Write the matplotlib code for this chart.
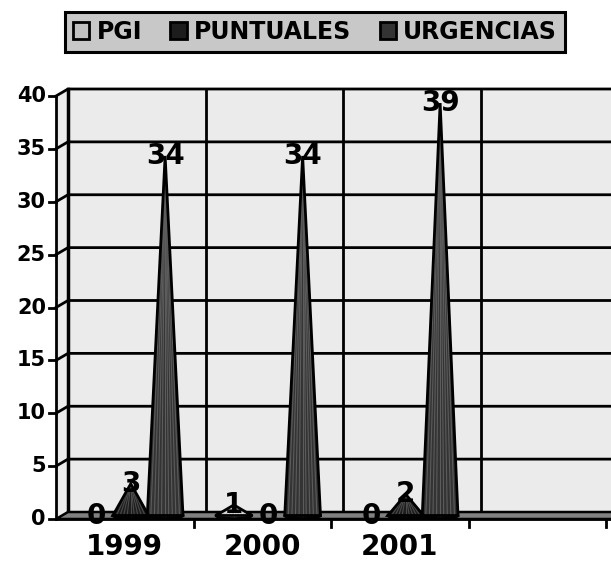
import matplotlib
matplotlib.use("Agg")
import matplotlib.pyplot as plt
from matplotlib.patches import Polygon, Ellipse, Patch
import numpy as np

categories = ["1999", "2000", "2001"]
series_names = ["PGI", "PUNTUALES", "URGENCIAS"]
pgi = [0, 1, 0]
puntuales = [3, 0, 2]
urgencias = [34, 34, 39]
yticks = [0, 5, 10, 15, 20, 25, 30, 35, 40]

series_values = [pgi, puntuales, urgencias]
series_colors = ["#c0c0c0", "#1c1c1c", "#333333"]
stripe_colors = ["#e0e0e0", "#4a4a4a", "#5c5c5c"]
ncat_slots = 4

W, H = 611, 565
fig = plt.figure(figsize=(W / 100, H / 100), dpi=100)
x0px, y0px = 56, 519
catw = 137.5
pxu = 10.575
ax = fig.add_axes([x0px / W, (H - y0px) / H, ncat_slots * catw / W, 40 * pxu / H])
ax.set_xlim(0, ncat_slots)
ax.set_ylim(0, 40)
ax.axis("off")

DX = 12 / catw
DY = 7 / pxu
xr = (W - x0px + 5) / catw
wall_c = "#ebebeb"
kw = dict(clip_on=False)

# side wall and back wall
ax.add_patch(Polygon([(0, 0), (DX, DY), (DX, 40 + DY), (0, 40)], closed=True,
                     facecolor=wall_c, edgecolor="none", zorder=1, **kw))
ax.add_patch(Polygon([(DX, DY), (xr, DY), (xr, 40 + DY), (DX, 40 + DY)], closed=True,
                     facecolor=wall_c, edgecolor="none", zorder=1, **kw))
# gridlines
for v in yticks[1:]:
    ax.plot([0, DX, xr], [v, v + DY, v + DY], color="black", lw=2, zorder=2, **kw)
for k in range(1, ncat_slots):
    ax.plot([k + DX, k + DX], [DY, 40 + DY], color="black", lw=2, zorder=2, **kw)
ax.plot([DX, DX], [DY, 40 + DY], color="black", lw=2.5, zorder=2, **kw)
# floor
ax.add_patch(Polygon([(0, 0), (xr, 0), (xr + DX, DY), (DX, DY)], closed=True,
                     facecolor="#808080", edgecolor="black", lw=1.8, zorder=3, **kw))
ax.plot([0, xr], [0, 0], color="black", lw=2, zorder=3, **kw)
# y axis
ax.plot([0, 0], [0, 40], color="black", lw=2, zorder=4, **kw)
tl = 7 / catw
for v in yticks:
    ax.plot([-tl, 0], [v, v], color="black", lw=2, zorder=4, **kw)
    ax.text(-10 / catw, v, str(v), ha="right", va="center", fontsize=15,
            fontweight="bold", zorder=5, **kw)
# x ticks
for k in range(1, ncat_slots + 1):
    ax.plot([k, k], [0, -8 / pxu], color="black", lw=2, zorder=4, **kw)
for i, c in enumerate(categories):
    ax.text(i + 0.5, -28 / pxu, c, ha="center", va="center", fontsize=20,
            fontweight="bold", zorder=5, **kw)

# cones
hw = 0.13
eh = 6 / pxu
nst = 9
for j, (vals, col, scol) in enumerate(zip(series_values, series_colors, stripe_colors)):
    for i, v in enumerate(vals):
        cx = i + 0.25 * (j + 1) + DX / 2
        by = DY / 2
        ty = v + by
        if v > 0:
            ax.add_patch(Ellipse((cx, by), 2 * hw, eh, facecolor=col,
                                 edgecolor="black", lw=2, zorder=6, **kw))
            ax.add_patch(Polygon([(cx - hw, by), (cx, ty), (cx + hw, by)], closed=True,
                                 facecolor=col, edgecolor="none", zorder=7, **kw))
            for bx in np.linspace(cx - 0.8 * hw, cx + 0.8 * hw, nst):
                ax.plot([bx, cx + (bx - cx) * 0.05], [by, ty - 0.05 * v],
                        color=scol, lw=0.8, zorder=7.5, **kw)
            ax.add_patch(Polygon([(cx - hw, by), (cx, ty), (cx + hw, by)], closed=True,
                                 facecolor="none", edgecolor="black", lw=2, zorder=8, **kw))
        ax.text(cx, ty, str(v), ha="center", va="center", fontsize=20,
                fontweight="bold", zorder=10, **kw)

# legend
handles = [Patch(facecolor=c, edgecolor="black", lw=2) for c in series_colors]
leg = fig.legend(handles, series_names, loc="center", bbox_to_anchor=(315 / W, 1 - 32 / H),
                 ncol=3, frameon=True, fancybox=False, handlelength=0.7, handleheight=0.7,
                 handletextpad=0.3, columnspacing=1.2, borderpad=0.35,
                 prop=dict(weight="bold", size=17))
leg.get_frame().set_facecolor("#c8c8c8")
leg.get_frame().set_edgecolor("black")
leg.get_frame().set_linewidth(2.2)
leg.get_frame().set_alpha(1)

fig.savefig("out.png", dpi=100)
